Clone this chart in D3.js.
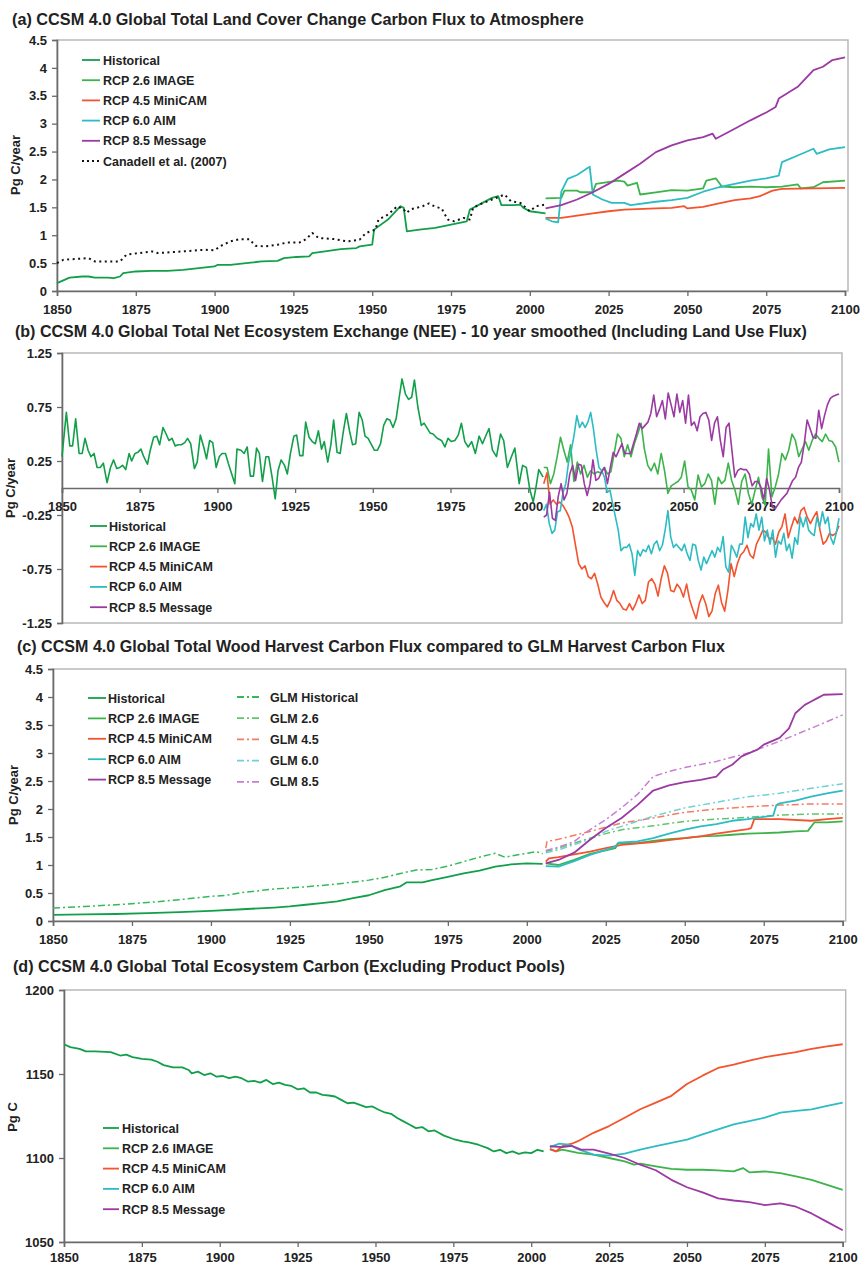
<!DOCTYPE html>
<html>
<head>
<meta charset="utf-8">
<script src="https://cdn.jsdelivr.net/npm/d3@7"></script>
<style>
  body { margin: 0; background: #fff; }
  text { font-family: "Liberation Sans", Arial, sans-serif; font-weight: bold; fill: #222; }
</style>
</head>
<body>
<svg id="chart" width="860" height="1266"></svg>
<script>
// ---------- shared labels ----------
const yearTicks = [1850, 1875, 1900, 1925, 1950, 1975, 2000, 2025, 2050, 2075, 2100];
const scenarioNames = ["Historical", "RCP 2.6 IMAGE", "RCP 4.5 MiniCAM", "RCP 6.0 AIM", "RCP 8.5 Message"];
const glmNames = ["GLM Historical", "GLM 2.6", "GLM 4.5", "GLM 6.0", "GLM 8.5"];
const canadellName = "Canadell et al. (2007)";

// ---------- (a) land cover change carbon flux, Pg C/year ----------
const aHistorical = [[1850,0.14],[1852,0.19],[1854,0.24],[1858,0.26],[1860,0.26],[1862,0.24],[1866,0.24],[1868,0.23],[1870,0.26],[1871,0.32],[1875,0.35],[1880,0.36],[1885,0.36],[1890,0.38],[1895,0.41],[1900,0.44],[1901,0.47],[1905,0.47],[1910,0.50],[1915,0.53],[1920,0.54],[1922,0.59],[1926,0.61],[1930,0.62],[1931,0.68],[1935,0.71],[1940,0.75],[1945,0.77],[1946,0.80],[1950,0.83],[1950.6,1.10],[1955,1.28],[1959,1.52],[1960,1.49],[1961,1.07],[1965,1.10],[1970,1.13],[1975,1.19],[1980,1.25],[1981,1.46],[1985,1.58],[1988,1.67],[1990,1.70],[1991,1.54],[1995,1.54],[1997,1.55],[1998,1.49],[2000,1.43],[2005,1.39]];
const aCanadell = [[1850,0.50],[1852,0.56],[1860,0.59],[1862,0.53],[1870,0.53],[1872,0.65],[1880,0.71],[1882,0.68],[1890,0.71],[1897,0.74],[1900,0.73],[1902,0.81],[1905,0.89],[1908,0.93],[1911,0.93],[1913,0.81],[1916,0.80],[1920,0.83],[1923,0.87],[1927,0.87],[1929,0.93],[1931,1.04],[1933,0.95],[1938,0.93],[1942,0.89],[1946,0.92],[1948,1.04],[1951,1.10],[1952,1.28],[1955,1.37],[1958,1.52],[1960,1.46],[1961,1.40],[1962,1.46],[1966,1.52],[1968,1.57],[1970,1.51],[1972,1.48],[1974,1.28],[1976,1.25],[1979,1.31],[1981,1.28],[1982,1.49],[1984,1.55],[1988,1.64],[1992,1.73],[1994,1.61],[1997,1.58],[2000,1.43],[2002,1.52],[2005,1.55]];
const aRcp26 = [[2005,1.66],[2010,1.67],[2011,1.80],[2015,1.80],[2016,1.77],[2020,1.77],[2021,1.92],[2028,1.98],[2030,1.96],[2031,1.89],[2034,1.94],[2035,1.73],[2040,1.77],[2045,1.81],[2050,1.80],[2055,1.84],[2056,1.98],[2059,2.02],[2061,1.87],[2065,1.86],[2070,1.87],[2075,1.86],[2080,1.87],[2085,1.91],[2086,1.84],[2090,1.86],[2093,1.95],[2100,1.98]];
const aRcp45 = [[2005,1.31],[2010,1.31],[2020,1.39],[2025,1.43],[2030,1.46],[2040,1.48],[2045,1.49],[2049,1.52],[2050,1.48],[2055,1.51],[2060,1.57],[2065,1.63],[2070,1.66],[2073,1.70],[2077,1.80],[2080,1.83],[2090,1.84],[2100,1.85]];
const aRcp60 = [[2005,1.30],[2007,1.25],[2009,1.23],[2010,1.78],[2012,2.01],[2015,2.08],[2018,2.19],[2019,2.23],[2020,1.73],[2023,1.64],[2026,1.58],[2030,1.58],[2032,1.54],[2040,1.60],[2045,1.63],[2050,1.67],[2055,1.78],[2060,1.86],[2065,1.92],[2070,1.98],[2075,2.02],[2079,2.07],[2080,2.31],[2085,2.43],[2090,2.55],[2091,2.46],[2095,2.54],[2100,2.58]];
const aRcp85 = [[2005,1.48],[2010,1.54],[2015,1.64],[2020,1.77],[2025,1.92],[2030,2.10],[2035,2.28],[2040,2.49],[2045,2.61],[2050,2.70],[2055,2.76],[2058,2.82],[2059,2.73],[2062,2.82],[2065,2.91],[2070,3.06],[2075,3.20],[2078,3.30],[2079,3.45],[2085,3.66],[2090,3.96],[2093,4.02],[2096,4.14],[2100,4.19]];

// ---------- (b) net ecosystem exchange, 10 year smoothed, Pg C/year ----------
const bHistorical = [[1850,0.29],[1851.4,0.70],[1852.5,0.39],[1853.4,0.39],[1854.4,0.64],[1855.5,0.32],[1856.5,0.32],[1857.4,0.46],[1858.4,0.35],[1859.3,0.29],[1860.3,0.32],[1861.3,0.19],[1862.3,0.19],[1863.3,0.23],[1864.5,0.05],[1865.6,0.19],[1866.6,0.26],[1867.6,0.18],[1868.6,0.19],[1869.5,0.21],[1870.5,0.17],[1871.6,0.32],[1872.4,0.25],[1873.5,0.32],[1874.4,0.33],[1875.4,0.36],[1876.3,0.29],[1877.5,0.22],[1878.4,0.35],[1879.5,0.47],[1880.5,0.48],[1881.4,0.40],[1882.5,0.56],[1883.5,0.50],[1884.4,0.44],[1885.4,0.46],[1886.4,0.39],[1887.4,0.40],[1888.4,0.40],[1889.5,0.42],[1890.4,0.46],[1891.4,0.41],[1892.6,0.18],[1893.5,0.24],[1894.5,0.49],[1895.6,0.38],[1896.5,0.27],[1897.5,0.44],[1898.5,0.42],[1899.6,0.19],[1900.6,0.29],[1901.5,0.32],[1902.6,0.32],[1903.5,0.23],[1904.6,0.13],[1905.6,0.04],[1906.3,0.36],[1907.6,0.35],[1908.6,0.32],[1909.6,0.38],[1910.6,0.11],[1911.6,0.11],[1912.6,0.37],[1913.5,0.32],[1914.5,0.06],[1915.6,0.29],[1916.5,0.29],[1917.6,0.10],[1918.6,-0.10],[1919.5,0.16],[1920.5,0.26],[1921.6,0.21],[1922.5,0.13],[1923.5,0.32],[1924.6,0.48],[1925.5,0.49],[1926.5,0.30],[1927.5,0.30],[1928.4,0.61],[1929.5,0.47],[1930.5,0.43],[1931.5,0.41],[1932.5,0.53],[1933.5,0.36],[1934.4,0.43],[1935.5,0.24],[1936.5,0.40],[1937.4,0.63],[1938.5,0.33],[1939.5,0.32],[1940.5,0.52],[1941.5,0.69],[1942.5,0.53],[1943.5,0.40],[1944.5,0.41],[1945.6,0.70],[1946.6,0.63],[1947.5,0.48],[1948.5,0.46],[1949.6,0.40],[1950.5,0.35],[1951.5,0.35],[1952.5,0.41],[1953.5,0.58],[1954.5,0.64],[1955.5,0.63],[1956.5,0.56],[1957.5,0.64],[1958.5,0.84],[1959.4,1.01],[1960.5,0.87],[1961.5,0.82],[1962.5,0.84],[1963.4,1.00],[1964.5,0.75],[1965.6,0.58],[1966.5,0.60],[1968.4,0.51],[1969.4,0.50],[1970.7,0.46],[1972.1,0.44],[1973.2,0.38],[1974.2,0.46],[1975.3,0.43],[1976.4,0.44],[1977.5,0.49],[1978.5,0.60],[1979.6,0.43],[1980.7,0.38],[1981.8,0.43],[1983,0.32],[1984.2,0.48],[1985.3,0.41],[1986.6,0.50],[1987.4,0.55],[1988.5,0.35],[1989.8,0.29],[1991.1,0.50],[1992.1,0.44],[1993.3,0.19],[1994.6,0.29],[1995.7,0.37],[1997.1,0.04],[1998.2,0.21],[1999.4,0.19],[2000.5,-0.01],[2001.6,-0.13],[2002.4,-0.01],[2003.4,0.17],[2004.8,0.10]];
// scenario runs: values spaced evenly over 2005-2100
const bYears = [2005, 2100];
const bRcp26 = [0.19,0.19,0.04,0.13,0.29,0.47,0.35,0.24,0.40,0.06,0.24,0.13,0.21,0.10,0.16,0.13,0.15,0.14,0.19,0.13,0.15,0.32,0.50,0.46,0.29,0.40,0.29,0.41,0.50,0.60,0.36,0.21,0.16,0.23,0.13,0.32,0.16,-0.05,0.02,0.04,0.06,0.10,0.25,0.01,-0.02,-0.11,0.12,0.01,0.04,0.13,0.07,-0.15,0.10,0.04,0.07,0.23,0.07,-0.02,-0.15,0.06,0.13,-0.05,-0.15,-0.02,0.10,-0.08,-0.16,0.36,-0.08,0.01,0.13,0.32,0.26,0.35,0.50,0.44,0.29,0.36,0.43,0.35,0.44,0.50,0.46,0.43,0.50,0.44,0.43,0.38,0.24];
const bRcp45 = [0.04,0.14,-0.15,-0.11,-0.15,-0.13,-0.16,-0.21,-0.27,-0.36,-0.53,-0.70,-0.75,-0.72,-0.82,-0.84,-0.79,-0.89,-1.01,-1.06,-1.10,-1.04,-0.95,-1.04,-1.07,-1.12,-1.13,-1.07,-1.13,-1.07,-0.99,-1.07,-1.04,-0.87,-0.84,-0.89,-1.00,-0.84,-0.72,-0.79,-0.95,-0.96,-0.89,-0.93,-1.01,-0.89,-1.04,-1.13,-1.21,-1.07,-0.99,-1.07,-1.19,-1.14,-0.98,-0.90,-1.06,-1.14,-0.95,-0.70,-0.82,-0.70,-0.62,-0.59,-0.53,-0.62,-0.65,-0.52,-0.46,-0.39,-0.41,-0.47,-0.46,-0.52,-0.41,-0.36,-0.24,-0.46,-0.36,-0.27,-0.33,-0.21,-0.18,-0.27,-0.33,-0.27,-0.22,-0.39,-0.52,-0.49,-0.42,-0.44,-0.42,-0.35];
const bRcp60 = [-0.21,-0.15,-0.33,-0.42,-0.39,-0.22,-0.21,-0.04,0.04,0.24,0.35,0.49,0.67,0.56,0.61,0.56,0.61,0.70,0.55,0.35,0.19,0.16,0.10,-0.04,-0.02,-0.15,-0.27,-0.39,-0.58,-0.55,-0.55,-0.52,-0.61,-0.81,-0.58,-0.63,-0.57,-0.59,-0.53,-0.61,-0.52,-0.49,-0.58,-0.53,-0.39,-0.21,-0.45,-0.55,-0.52,-0.55,-0.58,-0.52,-0.61,-0.67,-0.52,-0.53,-0.67,-0.76,-0.64,-0.70,-0.64,-0.58,-0.64,-0.55,-0.59,-0.45,-0.73,-0.78,-0.53,-0.58,-0.64,-0.52,-0.52,-0.27,-0.46,-0.33,-0.36,-0.24,-0.39,-0.27,-0.49,-0.39,-0.52,-0.39,-0.64,-0.49,-0.52,-0.42,-0.58,-0.52,-0.65,-0.46,-0.52,-0.27,-0.36,-0.27,-0.39,-0.42,-0.44,-0.27,-0.36,-0.22,-0.33,-0.27,-0.46,-0.52,-0.42,-0.28];
const bRcp85 = [-0.27,-0.25,-0.04,-0.28,-0.30,-0.08,0.04,-0.11,-0.05,0.13,0.21,0.07,0.22,0.21,0.04,-0.07,0.04,0.26,0.07,0.09,0.15,0.19,0.04,0.19,0.33,0.29,0.35,0.41,0.32,0.32,0.32,0.41,0.50,0.60,0.55,0.58,0.61,0.69,0.86,0.66,0.73,0.81,0.64,0.88,0.77,0.66,0.87,0.70,0.81,0.60,0.86,0.58,0.61,0.53,0.66,0.69,0.70,0.63,0.44,0.60,0.66,0.44,0.29,0.56,0.60,0.35,0.10,0.16,0.18,0.17,0.17,0.13,0.02,0.06,0.06,0.01,-0.11,0.09,-0.02,-0.18,-0.19,-0.15,-0.11,-0.08,-0.05,0.01,0.07,0.10,0.19,0.24,0.41,0.63,0.55,0.47,0.46,0.72,0.55,0.67,0.77,0.83,0.85,0.86,0.87];

// ---------- (c) wood harvest carbon flux, Pg C/year ----------
const cHistorical = [[1850,0.11],[1860,0.12],[1870,0.125],[1880,0.14],[1890,0.16],[1900,0.18],[1910,0.21],[1920,0.24],[1925,0.26],[1930,0.29],[1935,0.32],[1940,0.35],[1945,0.41],[1950,0.46],[1955,0.55],[1960,0.62],[1962,0.69],[1967,0.69],[1970,0.73],[1975,0.79],[1980,0.85],[1985,0.90],[1990,0.97],[1995,1.01],[2000,1.03],[2005,1.02]];
const cRcp26 = [[2006,1.03],[2010,1.00],[2015,1.09],[2020,1.20],[2025,1.26],[2028,1.30],[2029,1.39],[2035,1.39],[2040,1.43],[2045,1.46],[2050,1.48],[2055,1.51],[2060,1.52],[2065,1.54],[2070,1.56],[2075,1.57],[2080,1.58],[2085,1.60],[2089,1.61],[2091,1.76],[2095,1.76],[2100,1.78]];
const cRcp45 = [[2006,1.06],[2007,1.12],[2010,1.14],[2015,1.19],[2020,1.24],[2025,1.30],[2030,1.36],[2040,1.41],[2050,1.48],[2055,1.51],[2060,1.56],[2065,1.60],[2070,1.64],[2071,1.66],[2072,1.82],[2080,1.82],[2090,1.79],[2095,1.82],[2100,1.84]];
const cRcp60 = [[2006,0.98],[2010,0.97],[2015,1.07],[2020,1.18],[2025,1.27],[2028,1.33],[2029,1.40],[2035,1.42],[2040,1.48],[2045,1.56],[2050,1.63],[2055,1.69],[2060,1.73],[2065,1.79],[2070,1.82],[2075,1.86],[2078,1.88],[2079,2.07],[2080,2.10],[2085,2.15],[2090,2.22],[2095,2.28],[2100,2.33]];
const cRcp85 = [[2006,1.03],[2010,1.09],[2015,1.22],[2020,1.45],[2025,1.66],[2030,1.84],[2035,2.07],[2040,2.33],[2045,2.42],[2050,2.48],[2055,2.52],[2060,2.58],[2062,2.70],[2065,2.79],[2068,2.94],[2070,2.99],[2073,3.06],[2075,3.15],[2080,3.27],[2083,3.44],[2085,3.71],[2088,3.86],[2090,3.92],[2092,3.98],[2094,4.04],[2100,4.05]];
const cGlmHistorical = [[1850,0.23],[1860,0.26],[1870,0.29],[1880,0.33],[1890,0.38],[1900,0.44],[1905,0.46],[1910,0.51],[1920,0.57],[1930,0.61],[1940,0.66],[1950,0.73],[1955,0.78],[1960,0.85],[1965,0.91],[1970,0.92],[1975,0.98],[1980,1.06],[1985,1.14],[1990,1.21],[1993,1.14],[1995,1.16],[2000,1.21],[2003,1.24],[2005,1.20]];
const cGlm26 = [[2006,1.24],[2010,1.30],[2015,1.39],[2020,1.48],[2025,1.56],[2030,1.63],[2040,1.70],[2050,1.78],[2060,1.82],[2070,1.85],[2080,1.89],[2090,1.91],[2100,1.91]];
const cGlm45 = [[2006,1.30],[2006.4,1.42],[2010,1.46],[2020,1.60],[2030,1.75],[2040,1.84],[2050,1.94],[2060,2.00],[2070,2.04],[2080,2.07],[2090,2.09],[2100,2.09]];
const cGlm60 = [[2006,1.22],[2010,1.27],[2020,1.46],[2025,1.60],[2030,1.69],[2040,1.87],[2050,2.02],[2060,2.12],[2070,2.22],[2080,2.28],[2090,2.37],[2100,2.45]];
const cGlm85 = [[2006,1.26],[2010,1.32],[2015,1.42],[2020,1.63],[2025,1.81],[2030,2.02],[2035,2.26],[2040,2.58],[2045,2.67],[2050,2.74],[2060,2.85],[2070,3.00],[2080,3.21],[2090,3.44],[2100,3.68]];

// ---------- (d) total ecosystem carbon, Pg C ----------
const dHistorical = [[1850,1167.7],[1852,1166],[1855,1165],[1857,1163.5],[1860,1163.5],[1865,1163],[1868,1161],[1870,1161.5],[1872,1160],[1875,1159],[1878,1158.6],[1880,1157.3],[1882,1155.3],[1885,1153.9],[1888,1153.9],[1890,1152.4],[1891,1150.4],[1893,1151.4],[1895,1149.4],[1897,1150.4],[1899,1148.4],[1901,1148.8],[1903,1147.5],[1905,1148.4],[1907,1147.5],[1909,1145.5],[1911,1145.9],[1913,1144.9],[1915,1146.5],[1917,1144],[1919,1144.9],[1921,1143.5],[1923,1142.9],[1925,1140.9],[1927,1141.5],[1929,1139],[1931,1139],[1933,1137.6],[1935,1137.2],[1937,1136.6],[1939,1134.6],[1941,1132.6],[1943,1133],[1945,1131.6],[1947,1130.3],[1949,1130.7],[1951,1128.7],[1953,1127.1],[1955,1126.3],[1957,1123.8],[1959,1121.8],[1961,1119.8],[1963,1117.8],[1965,1118.4],[1967,1115.9],[1969,1116.4],[1970,1115.3],[1972,1113.3],[1975,1111.3],[1978,1109.9],[1980,1109.3],[1983,1107.9],[1986,1105.9],[1988,1103.9],[1990,1104.9],[1992,1102.9],[1994,1103.9],[1996,1102.5],[1998,1103.4],[2000,1102.9],[2002,1104.9],[2004,1103.9]];
const dRcp26 = [[2006,1105.3],[2008,1104],[2010,1105],[2015,1103],[2020,1102],[2025,1100],[2030,1098],[2033,1096],[2035,1096.6],[2040,1095],[2045,1093.5],[2050,1093],[2055,1093],[2060,1092.6],[2065,1092],[2068,1094],[2070,1091.5],[2075,1092],[2080,1091],[2085,1089],[2090,1087],[2095,1084],[2100,1081]];
const dRcp45 = [[2006,1105.3],[2008,1104],[2010,1107],[2013,1108.5],[2015,1110],[2020,1115],[2025,1119],[2030,1124],[2035,1129],[2040,1133],[2045,1137],[2050,1144],[2055,1149],[2060,1153.6],[2065,1155.6],[2070,1158],[2075,1160],[2080,1161.5],[2085,1163],[2090,1165],[2095,1166.5],[2100,1167.7]];
const dRcp60 = [[2006,1106.5],[2009,1108.5],[2012,1108],[2015,1105.3],[2020,1102],[2025,1101.4],[2030,1102.6],[2035,1105],[2040,1107],[2045,1109],[2050,1111],[2055,1114],[2060,1117],[2065,1120],[2070,1122],[2075,1124],[2080,1127],[2085,1128],[2090,1129],[2095,1131],[2100,1133]];
const dRcp85 = [[2006,1107],[2010,1106.5],[2013,1107.3],[2016,1105],[2020,1105],[2025,1102.6],[2030,1100],[2035,1096],[2040,1092.7],[2045,1087],[2050,1082.6],[2055,1079.5],[2060,1076],[2065,1074.7],[2070,1073.7],[2075,1072],[2080,1073],[2085,1071],[2090,1067],[2095,1062],[2100,1057]];

// ---------- styles ----------
const lineColors = ["#129f4a", "#3cb44b", "#f4532e", "#2dbcc3", "#9b3aa2"];
const glmColors  = ["#34b95c", "#62c46c", "#f47c62", "#72d0d4", "#c77fd0"];
const dashDot = "7,3,2,3";

const svg = d3.select("#chart");

function evenly(values, span) {
  const step = (span[1] - span[0]) / (values.length - 1);
  return values.map((v, i) => [span[0] + i * step, v]);
}

function fitTitle(sel, width) {
  const w = sel.node().getComputedTextLength();
  sel.style("font-size", (15 * width / w).toFixed(2) + "px");
}

function drawPanel(cfg) {
  const g = svg.append("g");
  const x = d3.scaleLinear().domain([1850, 2100]).range([cfg.x0, cfg.x1]);
  const y = d3.scaleLinear().domain(cfg.yDomain).range([cfg.yBot, cfg.yTop]);

  // plot frame
  g.append("rect")
    .attr("x", cfg.x0).attr("y", cfg.yTop)
    .attr("width", cfg.x1 + 3 - cfg.x0).attr("height", cfg.yBot - cfg.yTop)
    .attr("fill", "none").attr("stroke", "#b9b9b9").attr("stroke-width", 1.5);

  // title
  const t = g.append("text").attr("x", cfg.titleX).attr("y", cfg.titleY)
    .style("font-size", "15px").text(cfg.title);
  fitTitle(t, cfg.titleW);

  // y axis
  const yAxis = d3.axisLeft(y).tickValues(cfg.yTicks).tickSize(5).tickPadding(5)
    .tickFormat(cfg.yFormat);
  const ya = g.append("g").attr("transform", `translate(${cfg.x0},0)`).call(yAxis);
  ya.select(".domain").attr("stroke", "#6a6a6a").attr("stroke-width", 1.6);
  ya.selectAll(".tick line").attr("stroke", "#6a6a6a").attr("stroke-width", 1.3);
  ya.selectAll(".tick text").style("font-size", "13px").attr("fill", "#222")
    .style("font-family", '"Liberation Sans", Arial, sans-serif').style("font-weight", "bold");

  // x axis
  const xAxis = d3.axisBottom(x).tickValues(yearTicks).tickSize(5).tickPadding(cfg.xPad || 9)
    .tickFormat(d3.format("d"));
  const xa = g.append("g").attr("transform", `translate(0,${y(cfg.xAxisAt)})`).call(xAxis);
  xa.select(".domain").attr("stroke", "#6a6a6a").attr("stroke-width", 1.6);
  xa.selectAll(".tick line").attr("stroke", "#6a6a6a").attr("stroke-width", 1.3);
  xa.selectAll(".tick text").style("font-size", "13px").attr("fill", "#222")
    .style("font-family", '"Liberation Sans", Arial, sans-serif').style("font-weight", "bold");

  // axis title
  g.append("text")
    .attr("transform", `translate(${cfg.yLabelX},${cfg.yLabelY}) rotate(-90)`)
    .attr("text-anchor", "middle").style("font-size", "13px").text(cfg.yLabel);

  // series
  const line = d3.line().x(d => x(d[0])).y(d => y(d[1]));
  cfg.series.forEach(s => {
    g.append("path").datum(s.data)
      .attr("d", line).attr("fill", "none")
      .attr("stroke", s.color).attr("stroke-width", s.width || 1.8)
      .attr("stroke-dasharray", s.dash || null)
      .attr("stroke-linejoin", "round");
  });

  // legend(s)
  cfg.legends.forEach(L => {
    L.items.forEach((it, i) => {
      const yy = L.y + i * L.dy;
      g.append("line")
        .attr("x1", L.x).attr("x2", L.x + L.len).attr("y1", yy).attr("y2", yy)
        .attr("stroke", it.color).attr("stroke-width", 1.8)
        .attr("stroke-dasharray", it.dash || null);
      g.append("text").attr("x", L.x + L.len + L.gap).attr("y", yy + 4.5)
        .style("font-size", "12.5px").text(it.name);
    });
  });
}

const fmtPlain = d => String(d);

// (a)
drawPanel({
  title: "(a) CCSM 4.0 Global Total Land Cover Change Carbon Flux to Atmosphere",
  titleX: 12, titleY: 25, titleW: 572,
  x0: 57, x1: 845, yTop: 40, yBot: 291,
  yDomain: [0, 4.5], yTicks: d3.range(0, 4.51, 0.5), yFormat: fmtPlain, xAxisAt: 0,
  yLabel: "Pg C/year", yLabelX: 20, yLabelY: 165,
  series: [
    { data: aHistorical, color: lineColors[0] },
    { data: aRcp26, color: lineColors[1] },
    { data: aRcp45, color: lineColors[2] },
    { data: aRcp60, color: lineColors[3] },
    { data: aRcp85, color: lineColors[4] },
    { data: aCanadell, color: "#111", dash: "2,3.5", width: 2 }
  ],
  legends: [{
    x: 82, y: 60, dy: 20.2, len: 18, gap: 3,
    items: scenarioNames.map((n, i) => ({ name: n, color: lineColors[i] }))
      .concat([{ name: canadellName, color: "#111", dash: "2,3" }])
  }]
});

// (b)
drawPanel({
  title: "(b) CCSM 4.0 Global Total Net Ecosystem Exchange (NEE) - 10 year smoothed (Including Land Use Flux)",
  titleX: 15, titleY: 337, titleW: 792,
  x0: 62, x1: 839, yTop: 353, yBot: 623,
  yDomain: [-1.25, 1.25], yTicks: [-1.25, -0.75, -0.25, 0.25, 0.75, 1.25], yFormat: fmtPlain, xAxisAt: 0,
  yLabel: "Pg C/year", yLabelX: 15, yLabelY: 488,
  series: [
    { data: bHistorical, color: lineColors[0], width: 1.6 },
    { data: evenly(bRcp26, bYears), color: lineColors[1], width: 1.6 },
    { data: evenly(bRcp45, bYears), color: lineColors[2], width: 1.6 },
    { data: evenly(bRcp60, bYears), color: lineColors[3], width: 1.6 },
    { data: evenly(bRcp85, bYears), color: lineColors[4], width: 1.6 }
  ],
  legends: [{
    x: 90, y: 526, dy: 20.3, len: 17, gap: 2,
    items: scenarioNames.map((n, i) => ({ name: n, color: lineColors[i] }))
  }]
});

// (c)
drawPanel({
  title: "(c) CCSM 4.0 Global Total Wood Harvest Carbon Flux compared to GLM Harvest Carbon Flux",
  titleX: 17, titleY: 652, titleW: 708,
  x0: 53, x1: 842.7, yTop: 669, yBot: 921,
  yDomain: [0, 4.5], yTicks: d3.range(0, 4.51, 0.5), yFormat: fmtPlain, xAxisAt: 0,
  yLabel: "Pg C/year", yLabelX: 18, yLabelY: 795,
  series: [
    { data: cGlmHistorical, color: glmColors[0], dash: dashDot, width: 1.5 },
    { data: cGlm26, color: glmColors[1], dash: dashDot, width: 1.5 },
    { data: cGlm45, color: glmColors[2], dash: dashDot, width: 1.5 },
    { data: cGlm60, color: glmColors[3], dash: dashDot, width: 1.5 },
    { data: cGlm85, color: glmColors[4], dash: dashDot, width: 1.5 },
    { data: cHistorical, color: lineColors[0] },
    { data: cRcp26, color: lineColors[1] },
    { data: cRcp45, color: lineColors[2] },
    { data: cRcp60, color: lineColors[3] },
    { data: cRcp85, color: lineColors[4] }
  ],
  legends: [
    { x: 88, y: 698, dy: 20.4, len: 18, gap: 2,
      items: scenarioNames.map((n, i) => ({ name: n, color: lineColors[i] })) },
    { x: 237, y: 697, dy: 21.2, len: 23, gap: 10,
      items: glmNames.map((n, i) => ({ name: n, color: glmColors[i], dash: dashDot })) }
  ]
});

// (d)
drawPanel({
  title: "(d) CCSM 4.0 Global Total Ecosystem Carbon (Excluding Product Pools)",
  titleX: 13, titleY: 972, titleW: 552,
  x0: 64, x1: 842.7, yTop: 990, yBot: 1242,
  yDomain: [1050, 1200], yTicks: [1050, 1100, 1150, 1200], yFormat: fmtPlain, xAxisAt: 1050,
  xPad: 6,
  yLabel: "Pg C", yLabelX: 17, yLabelY: 1117,
  series: [
    { data: dHistorical, color: lineColors[0] },
    { data: dRcp26, color: lineColors[1] },
    { data: dRcp45, color: lineColors[2] },
    { data: dRcp60, color: lineColors[3] },
    { data: dRcp85, color: lineColors[4] }
  ],
  legends: [{
    x: 103, y: 1128, dy: 20.3, len: 16, gap: 3,
    items: scenarioNames.map((n, i) => ({ name: n, color: lineColors[i] }))
  }]
});
</script>
</body>
</html>
